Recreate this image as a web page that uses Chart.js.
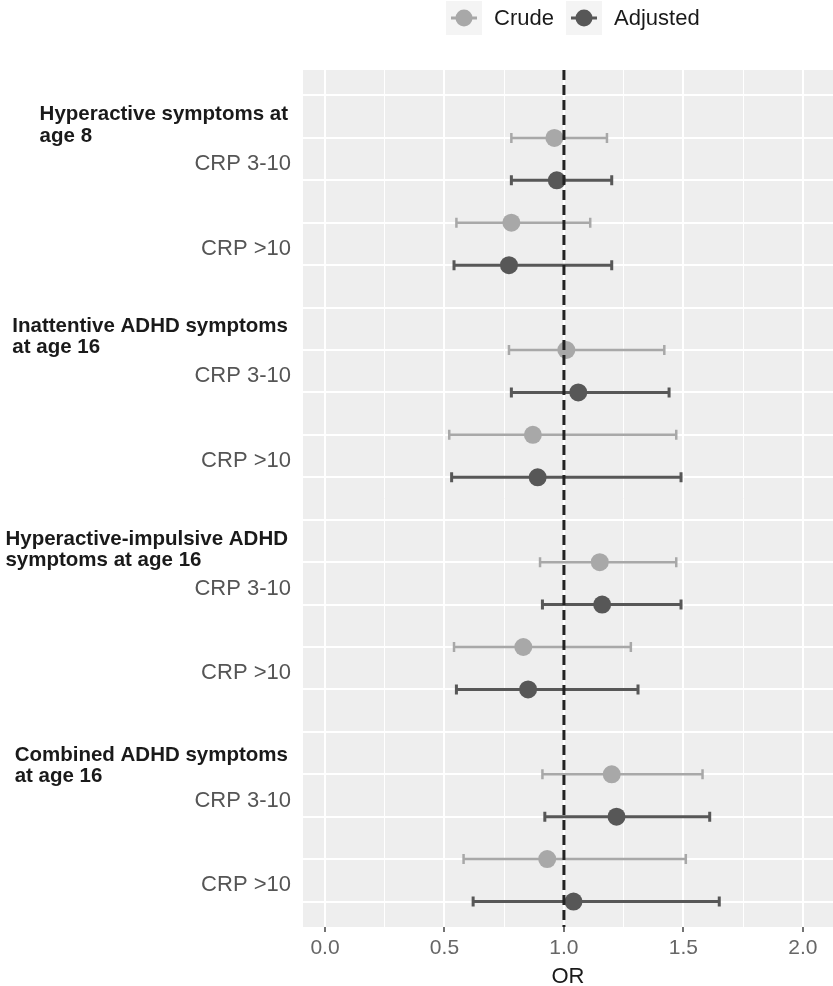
<!DOCTYPE html>
<html>
<head>
<meta charset="utf-8">
<script src="https://cdn.jsdelivr.net/npm/chart.js@4.4.1/dist/chart.umd.min.js"></script>
<style>
  body { margin: 0; background: #fff; }
</style>
</head>
<body>
<canvas id="forest" width="833" height="986"></canvas>
<script>
// outcome groups (headings) and exposure levels inside each group
const groups = [
  ['Hyperactive symptoms at', 'age 8'],
  ['Inattentive ADHD symptoms', 'at age 16'],
  ['Hyperactive-impulsive ADHD', 'symptoms at age 16'],
  ['Combined ADHD symptoms', 'at age 16']
];
const exposures = ['CRP 3-10', 'CRP >10'];
const seriesNames = ['Crude', 'Adjusted'];

// odds ratios with 95% CI, order: group1 3-10, group1 >10, group2 3-10, ...
const crudeOR = [0.96, 0.78, 1.01, 0.87, 1.15, 0.83, 1.20, 0.93];
const crudeLo = [0.78, 0.55, 0.77, 0.52, 0.90, 0.54, 0.91, 0.58];
const crudeHi = [1.18, 1.11, 1.42, 1.47, 1.47, 1.28, 1.58, 1.51];
const adjOR   = [0.97, 0.77, 1.06, 0.89, 1.16, 0.85, 1.22, 1.04];
const adjLo   = [0.78, 0.54, 0.78, 0.53, 0.91, 0.55, 0.92, 0.62];
const adjHi   = [1.20, 1.20, 1.44, 1.49, 1.49, 1.31, 1.61, 1.65];

const xTicks = [0, 0.5, 1, 1.5, 2];
const refLine = 1;

const FONT = '"Liberation Sans", Arial, sans-serif';
const colors = ['#a8a8a8', '#575757'];

// row layout: heading row, then crude/adjusted for each exposure
function rowOf(i, s) {
  const g = Math.floor(i / 2), e = i % 2;
  return g * 5 + 1 + 2 * e + s;
}
function makePoints(or, lo, hi, s) {
  return or.map((v, i) => ({ x: v, y: rowOf(i, s), lo: lo[i], hi: hi[i] }));
}

// panel background
const panelBg = {
  id: 'panelBg',
  beforeDraw(chart) {
    const { ctx, chartArea: a } = chart;
    ctx.save();
    ctx.fillStyle = '#eeeeee';
    ctx.fillRect(a.left, a.top, a.right - a.left, a.bottom - a.top);
    ctx.restore();
  }
};

// error bars drawn under the points
const errorBars = {
  id: 'errorBars',
  beforeDatasetsDraw(chart) {
    const { ctx, scales: { x, y } } = chart;
    ctx.save();
    chart.data.datasets.forEach((ds, s) => {
      ctx.strokeStyle = colors[s];
      ctx.lineWidth = s === 0 ? 2.5 : 3;
      ds.data.forEach(d => {
        const py = y.getPixelForValue(d.y);
        const x1 = x.getPixelForValue(d.lo), x2 = x.getPixelForValue(d.hi);
        ctx.beginPath();
        ctx.moveTo(x1, py); ctx.lineTo(x2, py);
        ctx.moveTo(x1, py - 5); ctx.lineTo(x1, py + 5);
        ctx.moveTo(x2, py - 5); ctx.lineTo(x2, py + 5);
        ctx.stroke();
      });
    });
    ctx.restore();
  }
};

// dashed reference line, row labels and legend
const overlay = {
  id: 'overlay',
  afterDatasetsDraw(chart) {
    const { ctx, chartArea: a, scales: { x } } = chart;
    const px = x.getPixelForValue(refLine);
    ctx.save();
    ctx.strokeStyle = '#222';
    ctx.lineWidth = 3;
    ctx.setLineDash([10, 5]);
    ctx.beginPath();
    ctx.moveTo(px, a.top); ctx.lineTo(px, a.bottom);
    ctx.stroke();
    ctx.restore();
  },
  afterDraw(chart) {
    const { ctx, scales: { y } } = chart;
    const right = 291;
    ctx.save();
    ctx.textBaseline = 'middle';
    // headings: left aligned block, right edge near the panel
    const headOffset = [0.71, 0.69, 0.71, 0.8];
    ctx.font = 'bold 20.5px ' + FONT;
    ctx.fillStyle = '#1a1a1a';
    groups.forEach((lines, g) => {
      const w = Math.max(...lines.map(l => ctx.measureText(l).width));
      const left = right - 3 - w;
      const mid = y.getPixelForValue(g * 5 + headOffset[g]);
      lines.forEach((l, k) => {
        ctx.textAlign = 'left';
        ctx.fillText(l, left, mid + (k - (lines.length - 1) / 2) * 21.5);
      });
    });
    // exposure labels between crude and adjusted rows
    ctx.font = '22px ' + FONT;
    ctx.fillStyle = '#555';
    ctx.textAlign = 'right';
    groups.forEach((lines, g) => {
      exposures.forEach((lab, e) => {
        ctx.fillText(lab, right, y.getPixelForValue(g * 5 + 1 + 2 * e + 0.62));
      });
    });
    // legend
    const ly = 18;
    const keys = [{ cx: 464, tx: 494 }, { cx: 584, tx: 614 }];
    seriesNames.forEach((name, s) => {
      const k = keys[s];
      ctx.fillStyle = '#f4f4f4';
      ctx.fillRect(k.cx - 18, ly - 17, 36, 34);
      ctx.strokeStyle = colors[s];
      ctx.lineWidth = 3;
      ctx.beginPath();
      ctx.moveTo(k.cx - 13, ly); ctx.lineTo(k.cx + 13, ly);
      ctx.stroke();
      ctx.fillStyle = colors[s];
      ctx.beginPath();
      ctx.arc(k.cx, ly, 8.5, 0, Math.PI * 2);
      ctx.fill();
      ctx.fillStyle = '#1a1a1a';
      ctx.font = '22px ' + FONT;
      ctx.textAlign = 'left';
      ctx.fillText(name, k.tx, ly + 1);
    });
    ctx.restore();
  }
};

const ctx = document.getElementById('forest').getContext('2d');
new Chart(ctx, {
  type: 'scatter',
  data: {
    datasets: [
      {
        label: seriesNames[0],
        data: makePoints(crudeOR, crudeLo, crudeHi, 0),
        backgroundColor: colors[0],
        pointRadius: 9,
        borderWidth: 0
      },
      {
        label: seriesNames[1],
        data: makePoints(adjOR, adjLo, adjHi, 1),
        backgroundColor: colors[1],
        pointRadius: 9,
        borderWidth: 0
      }
    ]
  },
  options: {
    responsive: false,
    animation: false,
    events: [],
    layout: { autoPadding: false, padding: { left: 303, top: 70, right: 0, bottom: -4 } },
    plugins: {
      legend: { display: false },
      tooltip: { enabled: false }
    },
    scales: {
      x: {
        type: 'linear',
        min: -0.092,
        max: 2.126,
        afterBuildTicks(scale) {
          const t = [];
          for (let v = 0; v <= 2.0001; v += 0.25) t.push({ value: Math.round(v * 100) / 100 });
          scale.ticks = t;
        },
        afterFit(scale) {
          scale.height = 63;
          scale.paddingLeft = 0;
          scale.paddingRight = 0;
        },
        border: { display: false },
        grid: {
          color: '#ffffff',
          lineWidth: c => (xTicks.includes(c.tick && c.tick.value) ? 2 : 1),
          tickColor: c => (xTicks.includes(c.tick && c.tick.value) ? '#444' : 'rgba(0,0,0,0)'),
          tickLength: 5,
          tickWidth: 1.5
        },
        ticks: {
          autoSkip: false,
          maxRotation: 0,
          padding: 4,
          color: '#666',
          font: { family: FONT, size: 21 },
          callback: v => (xTicks.includes(v) ? v.toFixed(1) : '')
        },
        title: {
          display: true,
          text: 'OR',
          color: '#1a1a1a',
          font: { family: FONT, size: 22 },
          padding: { top: 0, bottom: 0 }
        }
      },
      y: {
        type: 'linear',
        reverse: true,
        min: -0.6,
        max: 19.6,
        afterBuildTicks(scale) {
          const t = [];
          for (let r = 0; r < 20; r++) t.push({ value: r });
          scale.ticks = t;
        },
        afterFit(scale) { scale.width = 0; },
        border: { display: false },
        grid: { color: '#ffffff', lineWidth: 2, drawTicks: false },
        ticks: { display: false }
      }
    }
  },
  plugins: [panelBg, errorBars, overlay]
});
</script>
</body>
</html>
